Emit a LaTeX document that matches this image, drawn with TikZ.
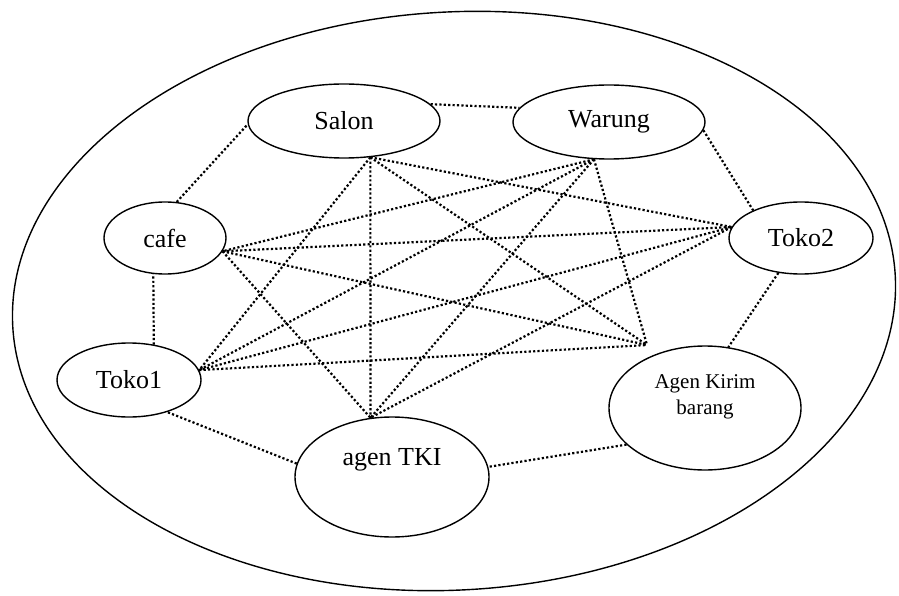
\documentclass[tikz,border=0pt]{standalone}
\usepackage{fontspec}
\setmainfont{Liberation Serif}
\usetikzlibrary{shapes.geometric}

\begin{document}
\begin{tikzpicture}[x=1pt,y=-1pt,
        font=\fontsize{26}{30}\selectfont,
        place/.style={shape=ellipse,draw=black,line width=1.4pt,inner sep=0pt},
        link/.style={line width=2.2pt,dash pattern=on 2.2pt off 2.2pt}]
        \useasboundingbox (0,0) rectangle (899,596);
        \node[place,minimum width=884pt,minimum height=578pt,rotate=3.4] (area) at (454,301) {};
        \node[place,minimum width=192pt,minimum height=74pt] (salon) at (344,121) {Salon};
        \node[place,minimum width=192pt,minimum height=74pt] (warung) at (609,122) {Warung};
        \node[place,minimum width=122pt,minimum height=72pt] (cafe) at (165,238) {cafe};
        \node[place,minimum width=144pt,minimum height=72pt] (toko2) at (801,238) {Toko2};
        \node[place,minimum width=144pt,minimum height=74pt] (toko1) at (129,380) {Toko1};
        \node[place,minimum width=192pt,minimum height=124pt,label={[yshift=11pt,font=\fontsize{21}{26}\selectfont,align=center]center:Agen Kirim\\barang}] (agen) at (705,408) {};
        \node[place,minimum width=194pt,minimum height=120pt,label={[yshift=17pt]center:agen TKI}] (tki) at (392,477) {};
        \coordinate (agenhub) at (647,345);
        % ring
        \path [link] (salon.11) edge (warung.171)
                     (warung.-5) edge (toko2.150)
                     (toko2.-123) edge (agen.69)
                     (agen.-155) edge (tki.6)
                     (tki.172) edge (toko1.-40)
                     (toko1.55) edge (cafe.-108)
                     (cafe.72) edge (salon.182);
        % cross links
        \path [link] (salon.-54) edge (toko1.8)
                     (salon.-54) edge (tki.110)
                     (salon.-54) edge (toko2.171)
                     (salon.-54) edge (agenhub);
        \path [link] (warung.-112) edge (cafe.-13)
                     (warung.-112) edge (toko1.8)
                     (warung.-112) edge (tki.110)
                     (warung.-112) edge (agenhub);
        \path [link] (cafe.-13) edge (toko2.171)
                     (cafe.-13) edge (agenhub)
                     (cafe.-13) edge (tki.110);
        \path [link] (toko2.171) edge (toko1.8)
                     (toko2.171) edge (tki.110);
        \path [link] (toko1.8) edge (agenhub);
    \end{tikzpicture}
\end{document}
